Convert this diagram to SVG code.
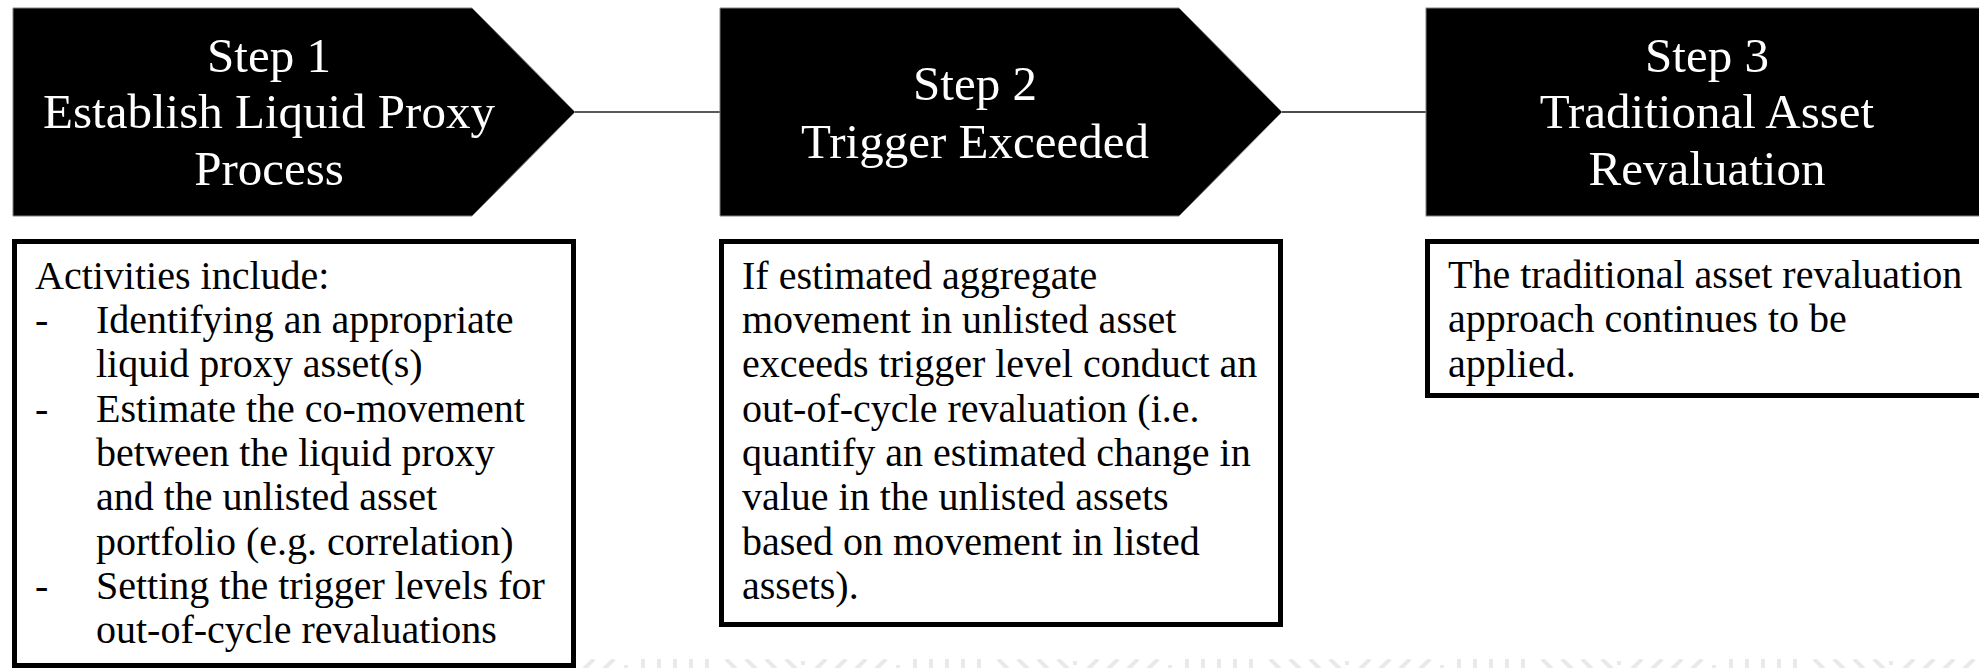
<svg xmlns="http://www.w3.org/2000/svg" width="1979" height="668" viewBox="0 0 1979 668">
  <style>
    .step { fill: #000; stroke: #808080; stroke-width: 1; }
    .head { font-family: "Liberation Serif", "Times New Roman", serif; font-size: 49px; fill: #fff; text-anchor: middle; }
    .box { fill: #fff; stroke: #000; stroke-width: 5; }
    .body { font-family: "Liberation Serif", "Times New Roman", serif; font-size: 40px; fill: #000; }
    .wm { stroke: #e9e9e9; stroke-width: 4; fill: none; }
  </style>
  <defs>
    <pattern id="wmPat" patternUnits="userSpaceOnUse" x="1184" y="659" width="272" height="10">
      <g class="wm">
        <line x1="3" y1="0" x2="3" y2="10"/>
        <line x1="19" y1="0" x2="19" y2="10"/>
        <line x1="35" y1="0" x2="35" y2="10"/>
        <line x1="51" y1="0" x2="51" y2="10"/>
        <line x1="67" y1="0" x2="67" y2="10"/>
        <line x1="86" y1="0" x2="96" y2="10"/>
        <line x1="106" y1="0" x2="116" y2="10"/>
        <line x1="126" y1="0" x2="136" y2="10"/>
        <line x1="146" y1="0" x2="156" y2="10"/>
        <line x1="163" y1="2" x2="163" y2="6"/>
        <line x1="186" y1="0" x2="176" y2="10"/>
        <line x1="206" y1="0" x2="196" y2="10"/>
        <line x1="226" y1="0" x2="216" y2="10"/>
        <line x1="246" y1="0" x2="236" y2="10"/>
        <line x1="258" y1="6" x2="258" y2="10"/>
      </g>
    </pattern>
  </defs>
  <rect x="0" y="0" width="1979" height="668" fill="#fff"/>
  <rect id="watermark" x="578" y="659" width="1401" height="9" fill="url(#wmPat)"/>

  <g id="connectors">
    <line x1="575" y1="112" x2="720" y2="112" stroke="#595959" stroke-width="2"/>
    <line x1="1282" y1="112" x2="1426" y2="112" stroke="#111" stroke-width="1.5"/>
  </g>

  <g id="step1">
    <polygon class="step" points="13,8 472,8 575,112 472,216 13,216"/>
    <text class="head" x="269" y="72">Step 1</text>
    <text class="head" x="269" y="128">Establish Liquid Proxy</text>
    <text class="head" x="269" y="185">Process</text>
  </g>

  <g id="step2">
    <polygon class="step" points="720,8 1179,8 1282,112 1179,216 720,216"/>
    <text class="head" x="975" y="100">Step 2</text>
    <text class="head" x="975" y="158">Trigger Exceeded</text>
  </g>

  <g id="step3">
    <rect class="step" x="1426" y="8" width="570" height="208"/>
    <text class="head" x="1707" y="72">Step 3</text>
    <text class="head" x="1707" y="128">Traditional Asset</text>
    <text class="head" x="1707" y="185">Revaluation</text>
  </g>

  <g id="box1">
    <rect class="box" x="14.5" y="241.5" width="559" height="424"/>
    <text class="body" x="35" y="289">Activities include:</text>
    <text class="body" x="35" y="333">-</text>
    <text class="body" x="96" y="333">Identifying an appropriate</text>
    <text class="body" x="96" y="377">liquid proxy asset(s)</text>
    <text class="body" x="35" y="422">-</text>
    <text class="body" x="96" y="422">Estimate the co-movement</text>
    <text class="body" x="96" y="466">between the liquid proxy</text>
    <text class="body" x="96" y="510">and the unlisted asset</text>
    <text class="body" x="96" y="555">portfolio (e.g. correlation)</text>
    <text class="body" x="35" y="599">-</text>
    <text class="body" x="96" y="599">Setting the trigger levels for</text>
    <text class="body" x="96" y="643">out-of-cycle revaluations</text>
  </g>

  <g id="box2">
    <rect class="box" x="721.5" y="241.5" width="559" height="383"/>
    <text class="body" x="742" y="289">If estimated aggregate</text>
    <text class="body" x="742" y="333">movement in unlisted asset</text>
    <text class="body" x="742" y="377">exceeds trigger level conduct an</text>
    <text class="body" x="742" y="422">out-of-cycle revaluation (i.e.</text>
    <text class="body" x="742" y="466">quantify an estimated change in</text>
    <text class="body" x="742" y="510">value in the unlisted assets</text>
    <text class="body" x="742" y="555">based on movement in listed</text>
    <text class="body" x="742" y="599">assets).</text>
  </g>

  <g id="box3">
    <rect class="box" x="1427.5" y="241.5" width="600" height="154"/>
    <text class="body" x="1448" y="288">The traditional asset revaluation</text>
    <text class="body" x="1448" y="332">approach continues to be</text>
    <text class="body" x="1448" y="377">applied.</text>
  </g>
</svg>
